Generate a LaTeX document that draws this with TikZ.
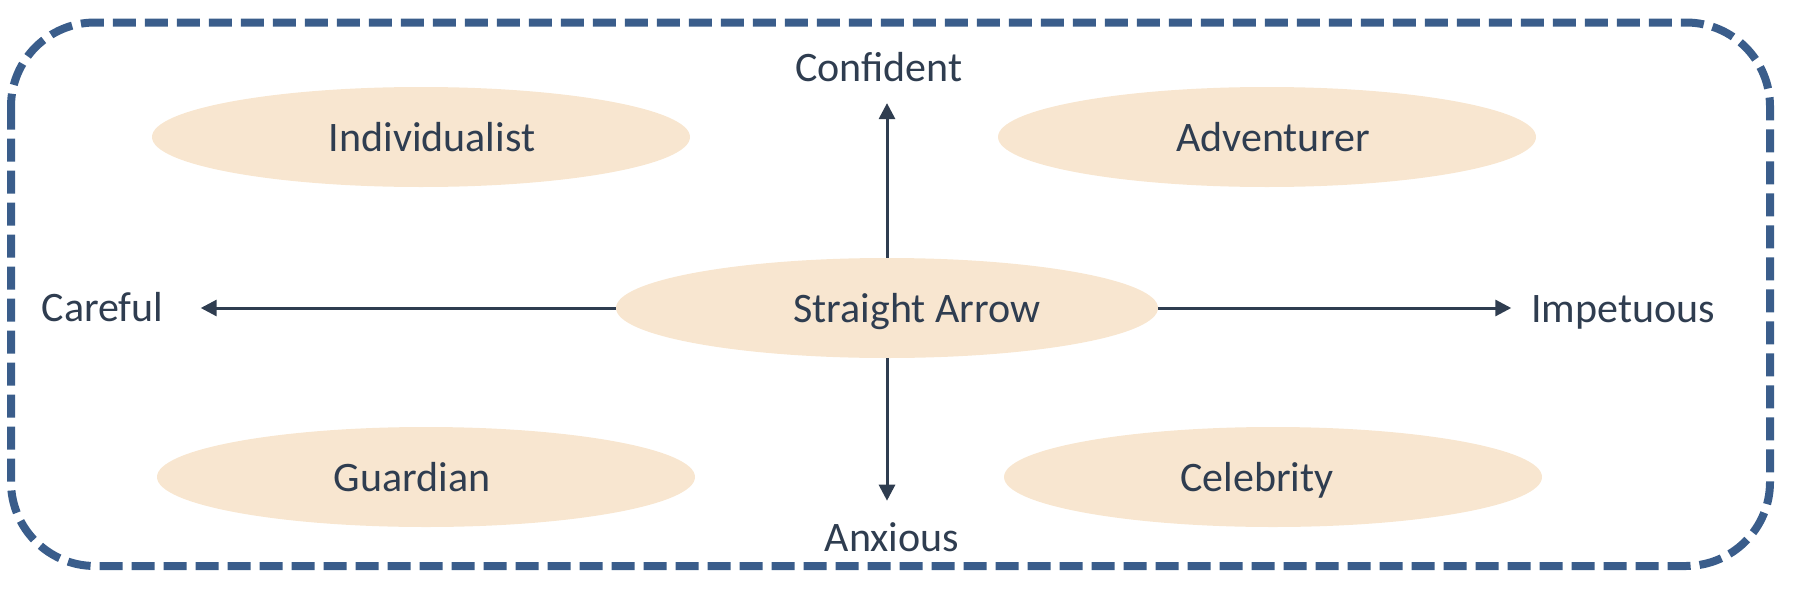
\documentclass[tikz,border=0pt]{standalone}
\usepackage{fontspec}
\setmainfont{Carlito}
\usepackage{tikz}
\usetikzlibrary{shapes}
\usetikzlibrary{arrows.meta}
\definecolor{txtcol}{HTML}{2F3D50}
\definecolor{blobcol}{HTML}{F8E6D0}
\definecolor{framecol}{HTML}{3A5D8B}
\tikzset{blob/.style={ellipse, fill=blobcol, text=txtcol, minimum width=269pt, minimum height=50pt, text height=14.7pt, text depth=0pt, font=\fontsize{21}{25}\selectfont}}
\tikzset{axislab/.style={inner sep=0pt, text=txtcol, text height=14.7pt, text depth=0pt, font=\fontsize{21}{25}\selectfont}}
\tikzset{axisarrow/.style={draw=txtcol, line width=1.5pt, -{Triangle[length=8pt, width=8pt]}}}

\begin{document}
\begin{tikzpicture}[x=0.5pt,y=-0.5pt]
  \useasboundingbox (0,0) rectangle (1803,594);
  \draw[framecol, line width=4pt, dash pattern=on 11.5pt off 4.5pt, rounded corners=42pt]
    (11,22.5) rectangle (1770,566);
  \node[blob, minimum width=271pt] (sa) at (887,308) {\hspace*{30pt}Straight Arrow};
  \foreach \x/\y/\sh/\lab/\txt in {
    421/137/11/ind/Individualist,
    1267/137/6/adv/Adventurer,
    426/477/-14/gua/Guardian,
    1273/477/-16/cel/Celebrity%
  } {
    \node[blob] (\lab) at (\x, \y) {\hspace*{\sh pt}\txt};
  }
  \node[axislab] (conf) at (879,67) {Confident};
  \node[axislab] (anx) at (892,537) {Anxious};
  \node[axislab] (care) at (102.5,307) {Careful};
  \node[axislab] (imp) at (1623,308) {Impetuous};
  \draw[axisarrow, shorten >=10.5pt] (sa.north) -- (sa.north |- conf.south);
  \draw[axisarrow, shorten >=10.6pt] (sa.south) -- (sa.south |- anx.north);
  \draw[axisarrow, shorten >=18.5pt] (sa.west) -- (sa.west -| care.east);
  \draw[axisarrow, shorten >=9.75pt] (sa.east) -- (sa.east -| imp.west);
\end{tikzpicture}
\end{document}
